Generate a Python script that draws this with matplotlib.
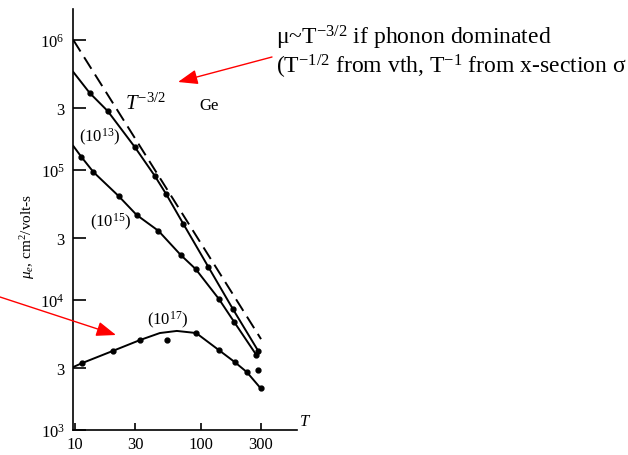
import numpy as np
import matplotlib
matplotlib.use("Agg")
import matplotlib.pyplot as plt

plt.rcParams['font.family'] = 'Liberation Serif'
plt.rcParams['mathtext.fontset'] = 'custom'
plt.rcParams['mathtext.rm'] = 'Liberation Serif'
plt.rcParams['mathtext.it'] = 'Liberation Serif:italic'

# T^-3/2 guide line (dashed)
t_guide = [9.7, 301]
mu_guide = [1.0e6, 5.0e3]

# (10^13)
t_13 = [9.7, 13.1, 18.2, 29.9, 43.1, 53.0, 72.6, 115, 180, 286]
mu_13 = [5.67e5, 3.91e5, 2.84e5, 1.50e5, 9.0e4, 6.53e4, 3.85e4, 1.79e4, 8.5e3, 4.05e3]

# (10^15)
t_15 = [9.7, 11.25, 14.0, 22.2, 30.9, 46.1, 69.2, 91.0, 139, 184, 276]
mu_15 = [1.53e5, 1.26e5, 9.65e4, 6.31e4, 4.51e4, 3.40e4, 2.22e4, 1.73e4, 1.02e4, 6.78e3, 3.78e3]
t_15_extra = [286]
mu_15_extra = [2.90e3]

# (10^17)
t_17 = [9.7, 11.4, 19.9, 32.9, 47.3, 64.5, 91.8, 139, 186, 232, 298]
mu_17 = [3.05e3, 3.27e3, 4.05e3, 4.92e3, 5.57e3, 5.78e3, 5.57e3, 4.12e3, 3.33e3, 2.79e3, 2.10e3]
dots_17 = [1, 2, 3, 6, 7, 8, 9, 10]
t_17_extra = [53.8]
mu_17_extra = [4.92e3]

x_ticks = [10, 30, 100, 300]
x_labels = ['10', '30', '100', '300']
y_ticks = [1e3, 3e3, 1e4, 3e4, 1e5, 3e5, 1e6]
y_labels = ['$10^3$', '3', '$10^4$', '3', '$10^5$', '3', '$10^6$']

W, H = 628, 456
fig = plt.figure(figsize=(W / 100, H / 100), dpi=100)
ax = fig.add_axes([73 / W, 25 / H, 224 / W, 421 / H])

ax.set_xscale('log')
ax.set_yscale('log')
ax.set_xlim(9.65, 581)
ax.set_ylim(1e3, 1.73e6)

ax.plot(t_guide, mu_guide, color='black', lw=1.4, ls=(0, (7, 3.5)))
ax.plot(t_13, mu_13, color='black', lw=1.4, marker='o', ms=3.5, markevery=list(range(1, len(t_13))))
ax.plot(t_15, mu_15, color='black', lw=1.4, marker='o', ms=3.5, markevery=list(range(1, len(t_15))))
ax.plot(t_15_extra, mu_15_extra, 'o', color='black', ms=3.5)
ax.plot(t_17, mu_17, color='black', lw=1.4, marker='o', ms=3.5, markevery=dots_17)
ax.plot(t_17_extra, mu_17_extra, 'o', color='black', ms=3.5)

for s in ['top', 'right']:
    ax.spines[s].set_visible(False)
for s in ['left', 'bottom']:
    ax.spines[s].set_linewidth(1.2)

ax.xaxis.set_minor_locator(plt.NullLocator())
ax.yaxis.set_minor_locator(plt.NullLocator())
ax.set_xticks(x_ticks)
ax.set_xticklabels(x_labels)
ax.set_yticks(y_ticks)
ax.set_yticklabels(y_labels)
ax.tick_params(axis='y', direction='in', length=9, width=1.2, pad=6, labelsize=12)
ax.tick_params(axis='x', direction='in', length=5, width=1.2, pad=4, labelsize=12)

def fx(x):
    return x / W

def fy(y):
    return 1 - y / H

fig.text(fx(305), fy(422), '$T$', fontsize=12, ha='center', va='center')
fig.text(fx(28), fy(236), r'$\mu_e$, cm$^2$/volt-s', fontsize=11, rotation=90,
         ha='center', va='center')

fig.text(fx(125), fy(110), r'$T^{-3/2}$', fontsize=15, ha='left', va='baseline')
fig.text(fx(209), fy(106), 'Ge', fontsize=12, ha='center', va='center')
fig.text(fx(100), fy(137), '(10$^{13}$)', fontsize=12, ha='center', va='center')
fig.text(fx(111), fy(222), '(10$^{15}$)', fontsize=12, ha='center', va='center')
fig.text(fx(168), fy(320), '(10$^{17}$)', fontsize=12, ha='center', va='center')

note = (r'μ~T$^{\mathrm{-3/2}}$ if phonon dominated' '\n'
        r'(T$^{\mathrm{-1/2}}$ from vth, T$^{\mathrm{-1}}$ from x-section σ')
fig.text(fx(276), fy(24), note, fontsize=17, ha='left', va='top', linespacing=1.05)

arrow = dict(arrowstyle='-|>,head_length=0.8,head_width=0.3', color='red', lw=1,
             mutation_scale=15, shrinkA=0, shrinkB=0)
ax.annotate('', xy=(178, H - 83), xycoords='figure pixels',
            xytext=(272, H - 58), textcoords='figure pixels', arrowprops=arrow)
ax.annotate('', xy=(116, H - 336), xycoords='figure pixels',
            xytext=(0, H - 298), textcoords='figure pixels', arrowprops=arrow)

fig.savefig('out.png', dpi=100)
